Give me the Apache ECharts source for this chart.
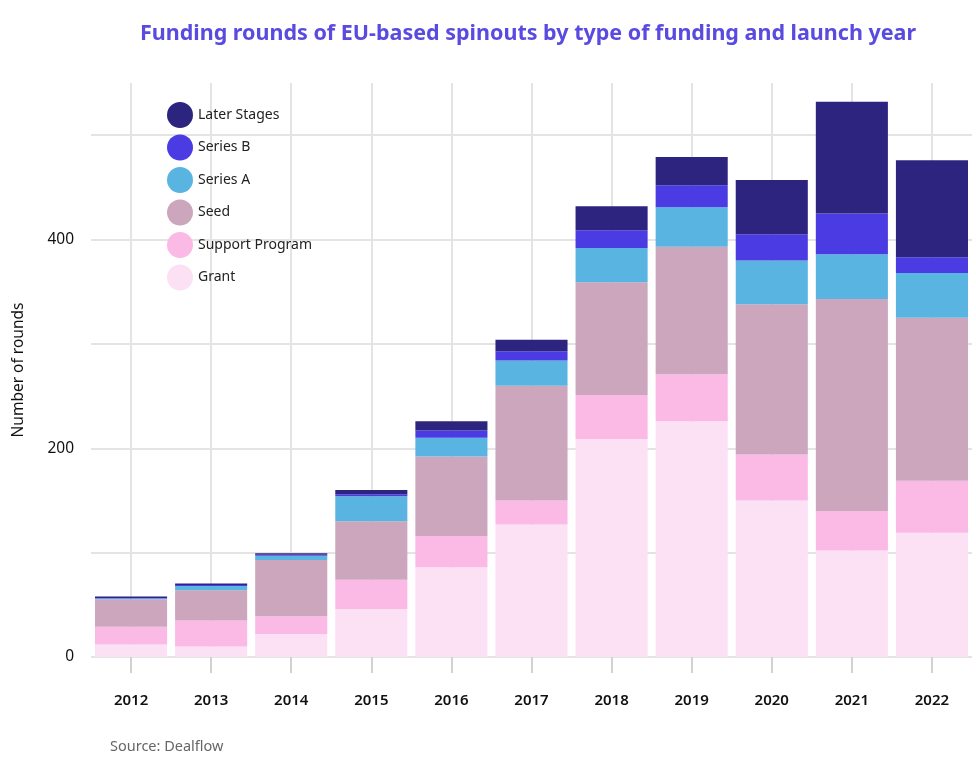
<!DOCTYPE html>
<html>
<head>
<meta charset="utf-8">
<script src="https://cdn.jsdelivr.net/npm/echarts@6/dist/echarts.min.js"></script>
<style>html,body{margin:0;padding:0;background:#fff;}#c{width:976px;height:760px;}</style>
</head>
<body>
<div id="c"></div>
<script>
const years = ['2012','2013','2014','2015','2016','2017','2018','2019','2020','2021','2022'];
const grant = [12, 10, 22, 46, 86, 127, 209, 226, 150, 102, 119];
const supportProgram = [17, 25, 17, 28, 30, 23, 42, 45, 44, 38, 50];
const seed = [26, 29, 54, 56, 76, 110, 108, 122, 144, 203, 156];
const seriesA = [1, 4, 4, 24, 18, 24, 33, 38, 42, 43, 43];
const seriesB = [0.5, 1, 1, 2, 7, 9, 17, 21, 25, 39, 15];
const laterStages = [1.5, 1.5, 1.5, 4, 9, 11, 23, 27, 52, 107, 93];
const yTicks = [0, 200, 400];

const names = ['Grant','Support Program','Seed','Series A','Series B','Later Stages'];
const values = [grant, supportProgram, seed, seriesA, seriesB, laterStages];
const colors = ['#fce0f4','#fbb9e6','#cba6bd','#5ab4e1','#4a3be3','#2d2480'];

const chart = echarts.init(document.getElementById('c'));
chart.setOption({
  backgroundColor: '#ffffff',
  animation: false,
  title: {
    text: 'Funding rounds of EU-based spinouts by type of funding and launch year',
    left: 523, top: 18, textAlign: 'center',
    textStyle: {color: '#5a4be0', fontSize: 21.5, fontWeight: 'bold', fontFamily: 'Noto Sans'}
  },
  legend: {
    orient: 'vertical', left: 162, top: 97,
    data: names.slice().reverse(),
    icon: 'circle', itemWidth: 26, itemHeight: 26, itemGap: 6.5,
    textStyle: {color: '#222', fontSize: 14, fontFamily: 'Noto Sans'}
  },
  grid: {left: 91, right: 4, top: 83, bottom: 103},
  xAxis: {
    type: 'category', data: years,
    axisLine: {show: false},
    axisTick: {show: true, alignWithLabel: true, length: 16, lineStyle: {color: '#d2d2d2', width: 2}},
    splitLine: {show: true, alignWithLabel: true, lineStyle: {color: '#e4e4e4', width: 2}},
    axisLabel: {margin: 36, color: '#111', fontSize: 15, fontWeight: 600, fontFamily: 'Noto Sans'}
  },
  yAxis: {
    type: 'value', min: 0, max: 550, interval: 100,
    name: 'Number of rounds', nameLocation: 'middle', nameRotate: 90, nameGap: 64,
    nameTextStyle: {color: '#111', fontSize: 15.5, fontFamily: 'Noto Sans'},
    axisLine: {show: false}, axisTick: {show: false},
    splitLine: {lineStyle: {color: ['#e4e4e4','#e4e4e4','#e4e4e4','#e4e4e4','#e4e4e4','#e4e4e4','rgba(0,0,0,0)'], width: 2}},
    axisLabel: {margin: 17, color: '#111', fontSize: 15.5, fontFamily: 'Noto Sans',
      formatter: v => yTicks.indexOf(v) >= 0 ? String(v) : ''}
  },
  graphic: [{
    type: 'text', left: 110, top: 739,
    style: {text: 'Source: Dealflow', fill: '#666', fontSize: 14.5, fontFamily: 'Noto Sans'}
  }],
  series: names.map((n, i) => ({
    name: n, type: 'bar', stack: 'total', data: values[i],
    barCategoryGap: '10%',
    itemStyle: {color: colors[i]}
  }))
});
</script>
</body>
</html>
